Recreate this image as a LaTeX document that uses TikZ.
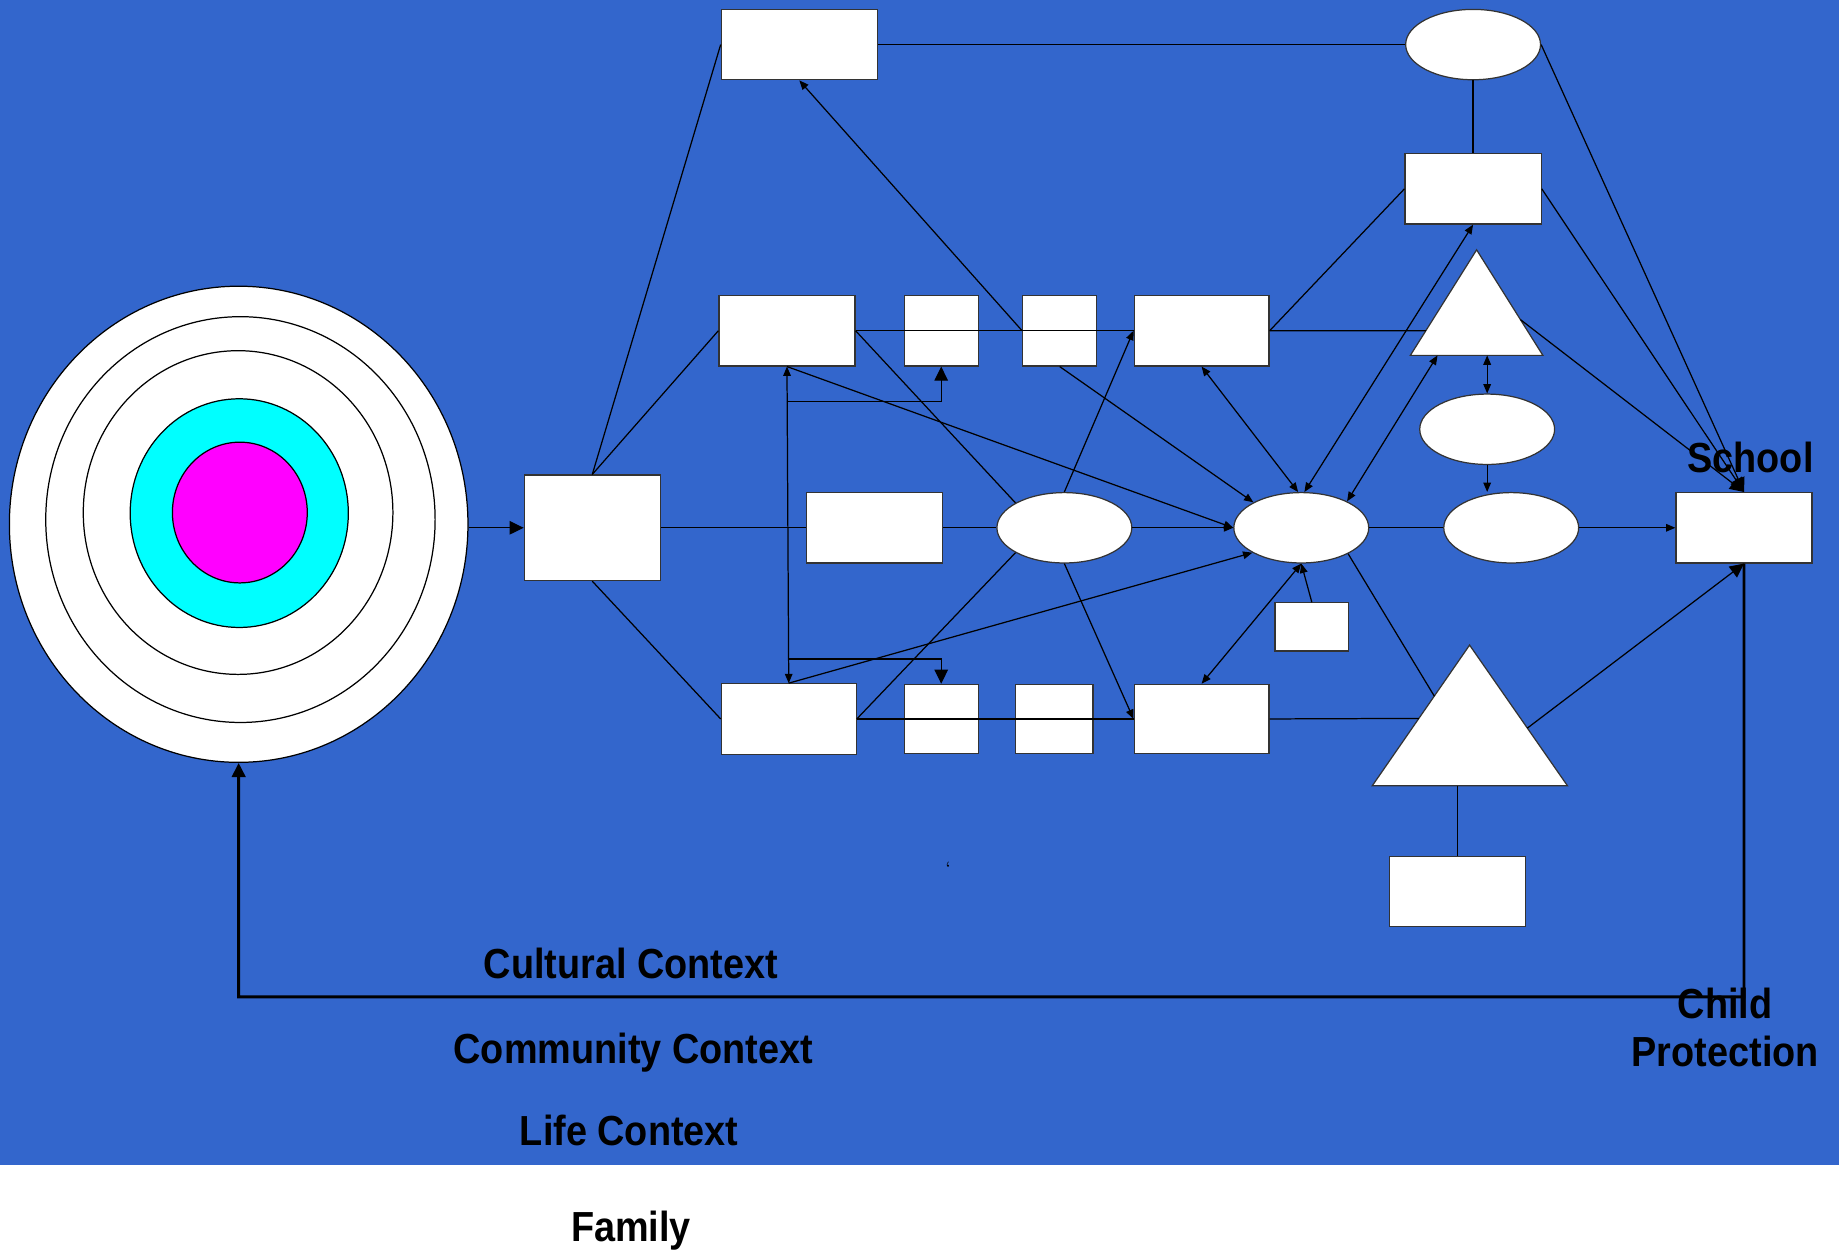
\documentclass[tikz,border=0pt]{standalone}
\usepackage{fontspec}
\usepackage{tikz}
\usetikzlibrary{arrows.meta, shapes.geometric, positioning, calc}
\newfontfamily\lblfont{Liberation Sans Bold}[FakeStretch=0.9]
\definecolor{slide}{RGB}{51,102,204}
\definecolor{aqua}{RGB}{0,255,255}
\definecolor{fuchsia}{RGB}{255,0,255}

\begin{document}
\begin{tikzpicture}[line width=0.3pt, node distance=1cm, on grid,
                >={Triangle[length=0.8mm,width=0.65mm]},
                big/.style={-{Triangle[length=1.2mm,width=1.15mm]}},
                box/.style={draw=black!80, fill=white, inner sep=0, minimum width=1.16cm, minimum height=0.6cm},
                sq/.style={box, minimum width=0.63cm},
                oval/.style={ellipse, draw=black!80, fill=white, inner sep=0, minimum width=1.15cm, minimum height=0.6cm},
                ring/.style={ellipse, draw=black, inner sep=0},
                lbl/.style={font=\lblfont\fontsize{10.2}{11.8}\selectfont, anchor=base, inner sep=0}]
                \useasboundingbox (0,0) rectangle (15.68,-10.65);
                \fill[slide] (0,0) rectangle (15.68,-9.93);
                \node[ring, fill=white, minimum width=3.91cm, minimum height=4.06cm] (c_1) at (2.035,-4.47) {};
                \node[ring, fill=white, minimum width=3.32cm, minimum height=3.46cm] (c_2) at (2.05,-4.43) {};
                \node[ring, fill=white, minimum width=2.64cm, minimum height=2.76cm] (c_3) at (2.03,-4.37) {};
                \node[ring, fill=aqua, minimum width=1.86cm, minimum height=1.95cm] (c_4) at (2.04,-4.375) {};
                \node[ring, fill=fuchsia, minimum width=1.15cm, minimum height=1.2cm] (c_5) at (2.045,-4.37) {};
                \node[box, minimum height=0.9cm] (h) at (5.05,-4.5) {};
                \node[box, minimum width=1.33cm] (t_0) at (6.815,-0.38) {};
                \node[box] (a_1) at (6.71,-2.82) {};
                \node[sq] (a_2) [right=1.315cm of a_1] {};
                \node[sq] (a_3) [right=1.01cm of a_2] {};
                \node[box, minimum width=1.15cm] (a_4) [right=1.21cm of a_3] {};
                \node[box, minimum width=1.15cm] (b_1) at (6.725,-6.13) {};
                \node[sq, minimum height=0.59cm] (b_2) [right=1.3cm of b_1] {};
                \node[sq, minimum width=0.66cm, minimum height=0.59cm] (b_3) [right=0.965cm of b_2] {};
                \node[box, minimum width=1.15cm, minimum height=0.59cm] (b_4) [right=1.255cm of b_3] {};
                \node[box] (m_1) at (7.455,-4.5) {};
                \node[oval] (e_1) at (9.075,-4.5) {};
                \node[oval] (e_2) [right=2.02cm of e_1] {};
                \node[oval] (e_4) [right=1.79cm of e_2] {};
                \node[box] (sch) [right=1.985cm of e_4] {};
                \node[oval] (e_3) at (12.68,-3.66) {};
                \node[oval] (e_t) at (12.56,-0.38) {};
                \node[box] (r_3) [below=1.23cm of e_t] {};
                \node[sq, minimum height=0.41cm] (m_s) at (11.185,-5.345) {};
                \node[box] (r_b) at (12.43,-7.6) {};
                \coordinate (u_a) at (12.59,-2.13);
                \coordinate (u_l) at (12.025,-3.03);
                \coordinate (u_r) at (13.155,-3.03);
                \coordinate (w_a) at (12.53,-5.5);
                \coordinate (w_l) at (11.7,-6.7);
                \coordinate (w_r) at (13.365,-6.7);
                \coordinate (fb) at (14.87,-8.5);
                \filldraw[fill=white, draw=black!80] (u_a) -- (u_r) -- (u_l) -- cycle;
                \filldraw[fill=white, draw=black!80] (w_a) -- (w_r) -- (w_l) -- cycle;
                \path
                (h.east) edge (m_1.west)
                (m_1.east) edge (e_1.west)
                (h.north) edge (t_0.west)
                (h.north) edge (a_1.west)
                (h.south) edge (b_1.west)
                (t_0.east) edge (e_t.west)
                (e_t.south) edge (r_3.north)
                (a_1.east) edge (a_4.west)
                (b_1.east) edge (b_4.west)
                (a_1.east) edge (e_1.153)
                (b_1.east) edge (e_1.207)
                (a_4.east) edge ($(u_l)!0.233!(u_a)$)
                (a_4.east) edge (r_3.west)
                (b_4.east) edge ($(w_l)!0.479!(w_a)$)
                (e_2.east) edge (e_4.west)
                (e_2.331) edge ($(w_l)!0.6375!(w_a)$)
                (r_b.north |- w_l) edge (r_b.north);
                \path[->]
                (a_3.west) edge (t_0.south)
                (a_1.south) edge (e_2.west)
                (e_1.east) edge (e_2.west)
                (a_3.south) edge (e_2.152)
                (e_1.north) edge (a_4.west)
                (e_1.south) edge (b_4.west)
                (m_s.north) edge (e_2.south)
                (b_1.north) edge (e_2.207)
                (e_3.south) edge (e_3.south |- e_4.north)
                (e_4.east) edge (sch.west);
                \path[<->]
                (a_1.south) edge (b_1.north)
                (a_4.south) edge (e_2.95)
                (r_3.south) edge (e_2.85)
                ($(u_l)!0.205!(u_r)$) edge (e_2.30)
                (b_4.north) edge (e_2.south)
                (e_3.north |- u_l) edge (e_3.north);
                \draw[big] ($(a_1.south)+(0,-0.3)$) -| (a_2.south);
                \draw[big] ($(b_1.north)+(0,0.205)$) -| (b_2.north);
                \path[big]
                (h.west -| c_1.east) edge (h.west)
                (e_t.east) edge (sch.north)
                (r_3.east) edge (sch.north)
                ($(u_a)!0.661!(u_r)$) edge (sch.north)
                ($(w_a)!0.59!(w_r)$) edge (sch.south);
                \draw[big, line width=0.7pt] (sch.south) -- (fb) -| (c_1.south);
                \node[lbl] (sch_t) at (14.925,-4.03) {School};
                \node[lbl, align=center] (cp) at (14.71,-9.095) {Child\\Protection};
                \node[lbl] (cul) at (5.38,-8.34) {Cultural Context};
                \node[lbl] (com) at (5.4,-9.065) {Community Context};
                \node[lbl] (lif) at (5.365,-9.77) {Life Context};
                \node[lbl] (fam) at (5.38,-10.585) {Family};
                \node[font=\fontsize{4}{4}\selectfont, inner sep=0] (tick) at (8.085,-7.4) {`};
        \end{tikzpicture}
\end{document}
